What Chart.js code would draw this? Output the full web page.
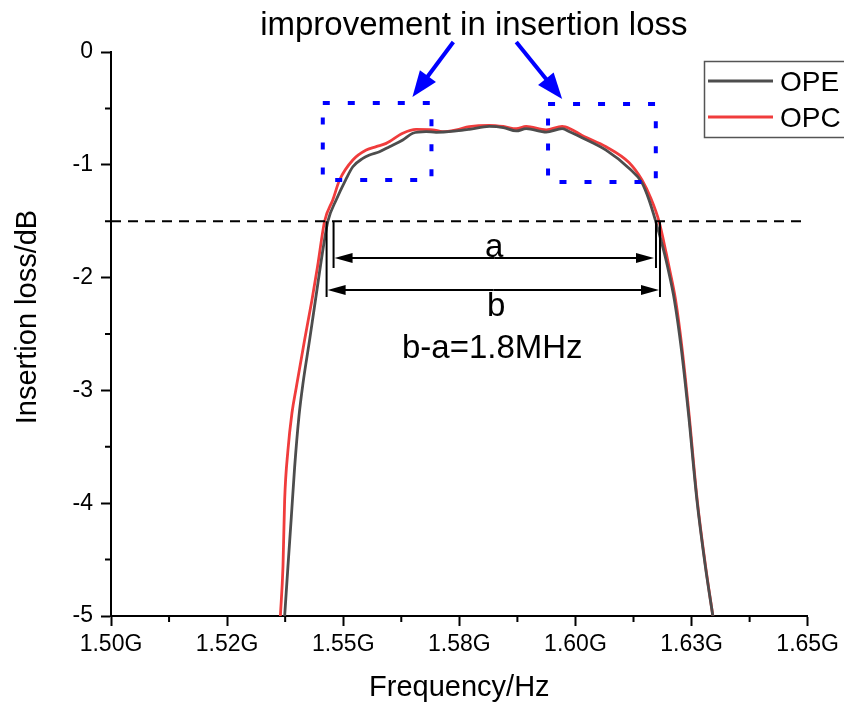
<!DOCTYPE html>
<html>
<head>
<meta charset="utf-8">
<title>Insertion loss OPE / OPC</title>
<script src="https://cdn.jsdelivr.net/npm/chart.js@4.4.1/dist/chart.umd.min.js"></script>
<style>
  html, body { margin: 0; padding: 0; background: #fff; }
  #wrap { width: 844px; height: 704px; }
</style>
</head>
<body>
<div id="wrap"><canvas id="chart" width="844" height="704"></canvas></div>
<script>
/* ===================================================
   DATA (frequency in GHz, insertion loss in dB)
=================================================== */

const opeFreq = [
    1.53739, 1.53810, 1.53883, 1.53954, 1.54047, 1.54133, 1.54277, 1.54455,
    1.54562, 1.54670, 1.54850, 1.55050, 1.55207, 1.55422, 1.55566, 1.55781,
    1.55996, 1.56282, 1.56496, 1.56784, 1.56999, 1.57436, 1.57715, 1.58145,
    1.58446, 1.58725, 1.58940, 1.59370, 1.59714, 1.59885, 1.60143, 1.60659,
    1.61153, 1.61433, 1.61583, 1.61727, 1.61916, 1.61981, 1.62131, 1.62282,
    1.62432, 1.62615, 1.62797, 1.62958
];
const opeLoss = [
    -5.00, -4.56, -4.12, -3.68, -3.23, -2.94, -2.55, -2.05,
    -1.755, -1.50, -1.31, -1.135, -1.017, -0.943, -0.913, -0.884,
    -0.84, -0.78, -0.72, -0.706, -0.712, -0.70, -0.686, -0.66,
    -0.67, -0.70, -0.68, -0.71, -0.68, -0.71, -0.76, -0.87,
    -1.03, -1.16, -1.31, -1.50, -1.785, -1.90, -2.20, -2.64,
    -3.20, -3.97, -4.56, -5.00
];

const opcFreq = [
    1.53647, 1.53703, 1.53739, 1.53810, 1.53896, 1.53991, 1.54169, 1.54326,
    1.54448, 1.54599, 1.54777, 1.54921, 1.55207, 1.55495, 1.55710, 1.55925,
    1.56282, 1.56569, 1.56926, 1.57141, 1.57436, 1.57715, 1.58145, 1.58446,
    1.58725, 1.58940, 1.59370, 1.59714, 1.59885, 1.60143, 1.60659, 1.61153,
    1.61433, 1.61626, 1.61798, 1.61955, 1.62013, 1.62157, 1.62299, 1.62443,
    1.62621, 1.62802, 1.62959
];
const opcLoss = [
    -5.00, -4.56, -3.97, -3.53, -3.20, -2.97, -2.55, -2.20,
    -1.90, -1.50, -1.31, -1.135, -0.957, -0.869, -0.839, -0.81,
    -0.72, -0.686, -0.69, -0.706, -0.69, -0.662, -0.65, -0.66,
    -0.68, -0.66, -0.69, -0.66, -0.68, -0.74, -0.84, -0.98,
    -1.135, -1.30, -1.50, -1.785, -1.90, -2.20, -2.64, -3.20,
    -3.97, -4.56, -5.00
];

const seriesNames = ["OPE", "OPC"];
const seriesColors = ["#4d4d4d", "#f03c3c"];

const xTickValues = [1.5, 1.525, 1.55, 1.575, 1.6, 1.625, 1.65];
const xTickLabels = ["1.50G", "1.52G", "1.55G", "1.58G", "1.60G", "1.63G", "1.65G"];
const xMinorTicks = [1.5125, 1.5375, 1.5625, 1.5875, 1.6125, 1.6375];
const yTickValues = [-5, -4, -3, -2, -1, 0];
const yTickLabels = ["-5", "-4", "-3", "-2", "-1", "0"];
const yMinorTicks = [-4.5, -3.5, -2.5, -1.5, -0.5];

// reference level and the two bandwidth markers (a = OPE, b = OPC)
const refLoss = -1.5;
const bandA = [1.54792, 1.61734];
const bandB = [1.54642, 1.61820];

const FONT = "'Liberation Sans', Arial, sans-serif";

/* ===================================================
   PLUGIN: annotations, minor ticks, legend, axis titles
=================================================== */

function arrowHead(ctx, x1, y1, x2, y2, len, half) {
    const ang = Math.atan2(y2 - y1, x2 - x1);
    ctx.beginPath();
    ctx.moveTo(x2, y2);
    ctx.lineTo(x2 - len * Math.cos(ang) + half * Math.sin(ang), y2 - len * Math.sin(ang) - half * Math.cos(ang));
    ctx.lineTo(x2 - len * Math.cos(ang) - half * Math.sin(ang), y2 - len * Math.sin(ang) + half * Math.cos(ang));
    ctx.closePath();
    ctx.fill();
}

function arrow(ctx, x1, y1, x2, y2, len, half) {
    const ang = Math.atan2(y2 - y1, x2 - x1);
    ctx.beginPath();
    ctx.moveTo(x1, y1);
    ctx.lineTo(x2 - len * 0.8 * Math.cos(ang), y2 - len * 0.8 * Math.sin(ang));
    ctx.stroke();
    arrowHead(ctx, x1, y1, x2, y2, len, half);
}

const decorations = {
    id: "decorations",
    afterDatasetsDraw(chart) {
        const { ctx, chartArea, scales: { x, y } } = chart;
        const px = (v) => x.getPixelForValue(v);
        const py = (v) => y.getPixelForValue(v);
        ctx.save();

        // minor ticks
        ctx.strokeStyle = "#000";
        ctx.lineWidth = 2;
        ctx.beginPath();
        xMinorTicks.forEach((v) => {
            ctx.moveTo(px(v), chartArea.bottom);
            ctx.lineTo(px(v), chartArea.bottom + 6);
        });
        yMinorTicks.forEach((v) => {
            ctx.moveTo(chartArea.left, py(v));
            ctx.lineTo(chartArea.left - 6, py(v));
        });
        ctx.stroke();

        // dashed reference line
        ctx.setLineDash([10, 7]);
        ctx.beginPath();
        ctx.moveTo(chartArea.left, py(refLoss));
        ctx.lineTo(chartArea.right, py(refLoss));
        ctx.stroke();
        ctx.setLineDash([]);

        // band markers
        ctx.fillStyle = "#000";
        ctx.lineWidth = 2;
        ctx.beginPath();
        ctx.moveTo(px(bandA[0]), py(refLoss)); ctx.lineTo(px(bandA[0]), py(-1.915));
        ctx.moveTo(px(bandA[1]), py(refLoss)); ctx.lineTo(px(bandA[1]), py(-1.915));
        ctx.moveTo(px(bandB[0]), py(refLoss)); ctx.lineTo(px(bandB[0]), py(-2.172));
        ctx.moveTo(px(bandB[1]), py(refLoss)); ctx.lineTo(px(bandB[1]), py(-2.172));
        ctx.stroke();
        const ya = py(-1.826), yb = py(-2.11);
        const midA = (px(bandA[0]) + px(bandA[1])) / 2;
        const midB = (px(bandB[0]) + px(bandB[1])) / 2;
        arrow(ctx, midA, ya, px(bandA[0]) + 1, ya, 18, 5);
        arrow(ctx, midA, ya, px(bandA[1]) - 2, ya, 18, 5);
        arrow(ctx, midB, yb, px(bandB[0]) + 1, yb, 18, 5);
        arrow(ctx, midB, yb, px(bandB[1]) - 1, yb, 18, 5);

        ctx.font = "33px " + FONT;
        ctx.textAlign = "center";
        ctx.textBaseline = "alphabetic";
        ctx.fillText("a", px(1.58252), py(-1.817));
        ctx.fillText("b", px(1.58295), py(-2.34));
        ctx.fillText("b-a=1.8MHz", px(1.58209), py(-2.713));

        // blue dotted boxes
        ctx.strokeStyle = "#0000ff";
        ctx.lineWidth = 4;
        ctx.setLineDash([7, 18]);
        [[1.5456, 1.5690, -0.452, -1.135], [1.5941, 1.6173, -0.461, -1.152]].forEach((b) => {
            ctx.strokeRect(px(b[0]), py(b[2]), px(b[1]) - px(b[0]), py(b[3]) - py(b[2]));
        });
        ctx.setLineDash([]);

        // blue arrows + heading
        ctx.fillStyle = "#0000ff";
        arrow(ctx, px(1.57371), py(0.0887), px(1.56490), py(-0.399), 26, 10);
        arrow(ctx, px(1.58725), py(0.0887), px(1.59714), py(-0.417), 26, 10);

        ctx.fillStyle = "#000";
        ctx.font = "33px " + FONT;
        ctx.fillText("improvement in insertion loss", px(1.57812), py(0.15));

        // legend
        ctx.strokeStyle = "#555";
        ctx.lineWidth = 1.5;
        ctx.strokeRect(704.5, 61.5, 160, 76);
        ctx.font = "28px " + FONT;
        ctx.textAlign = "left";
        seriesNames.forEach((name, i) => {
            const ly = 81 + i * 36;
            ctx.strokeStyle = seriesColors[i];
            ctx.lineWidth = 3;
            ctx.beginPath();
            ctx.moveTo(708, ly);
            ctx.lineTo(773, ly);
            ctx.stroke();
            ctx.fillText(name, 780, ly + 10);
        });

        // axis titles
        ctx.font = "29px " + FONT;
        ctx.textAlign = "center";
        ctx.textBaseline = "middle";
        ctx.fillText("Frequency/Hz", (chartArea.left + chartArea.right) / 2, 688);
        ctx.translate(28, 317);
        ctx.rotate(-Math.PI / 2);
        ctx.fillText("Insertion loss/dB", 0, 0);

        ctx.restore();
    }
};

/* ===================================================
   CHART
=================================================== */

const ctx = document.getElementById("chart").getContext("2d");

new Chart(ctx, {
    type: "line",
    data: {
        datasets: [
            {
                label: seriesNames[0],
                data: opeFreq.map((f, i) => ({ x: f, y: opeLoss[i] })),
                borderColor: seriesColors[0],
                borderWidth: 2.8,
                pointRadius: 0,
                cubicInterpolationMode: "monotone",
            },
            {
                label: seriesNames[1],
                data: opcFreq.map((f, i) => ({ x: f, y: opcLoss[i] })),
                borderColor: seriesColors[1],
                borderWidth: 2.8,
                pointRadius: 0,
                cubicInterpolationMode: "monotone",
            },
        ],
    },
    options: {
        responsive: false,
        animation: false,
        events: [],
        layout: { padding: { top: 52, right: 35, left: 0, bottom: 0 } },
        plugins: {
            legend: { display: false },
            tooltip: { enabled: false },
        },
        scales: {
            x: {
                type: "linear",
                min: 1.5,
                max: 1.65,
                afterBuildTicks: (scale) => {
                    scale.ticks = xTickValues.map((v) => ({ value: v }));
                },
                afterFit: (scale) => { scale.height = 88; },
                ticks: {
                    autoSkip: false,
                    maxRotation: 0,
                    padding: 5,
                    color: "#000",
                    font: { family: FONT, size: 23 },
                    callback: (v, i) => xTickLabels[i],
                },
                grid: {
                    drawOnChartArea: false,
                    tickLength: 10,
                    tickWidth: 2,
                    tickColor: "#000",
                },
                border: { display: true, color: "#000", width: 2 },
            },
            y: {
                min: -5,
                max: 0,
                afterBuildTicks: (scale) => {
                    scale.ticks = yTickValues.map((v) => ({ value: v }));
                },
                afterFit: (scale) => { scale.width = 111; },
                ticks: {
                    padding: 8,
                    color: "#000",
                    font: { family: FONT, size: 23 },
                    callback: (v, i) => yTickLabels[i],
                },
                grid: {
                    drawOnChartArea: false,
                    tickLength: 10,
                    tickWidth: 2,
                    tickColor: "#000",
                },
                border: { display: true, color: "#000", width: 2 },
            },
        },
    },
    plugins: [decorations],
});
</script>
</body>
</html>
